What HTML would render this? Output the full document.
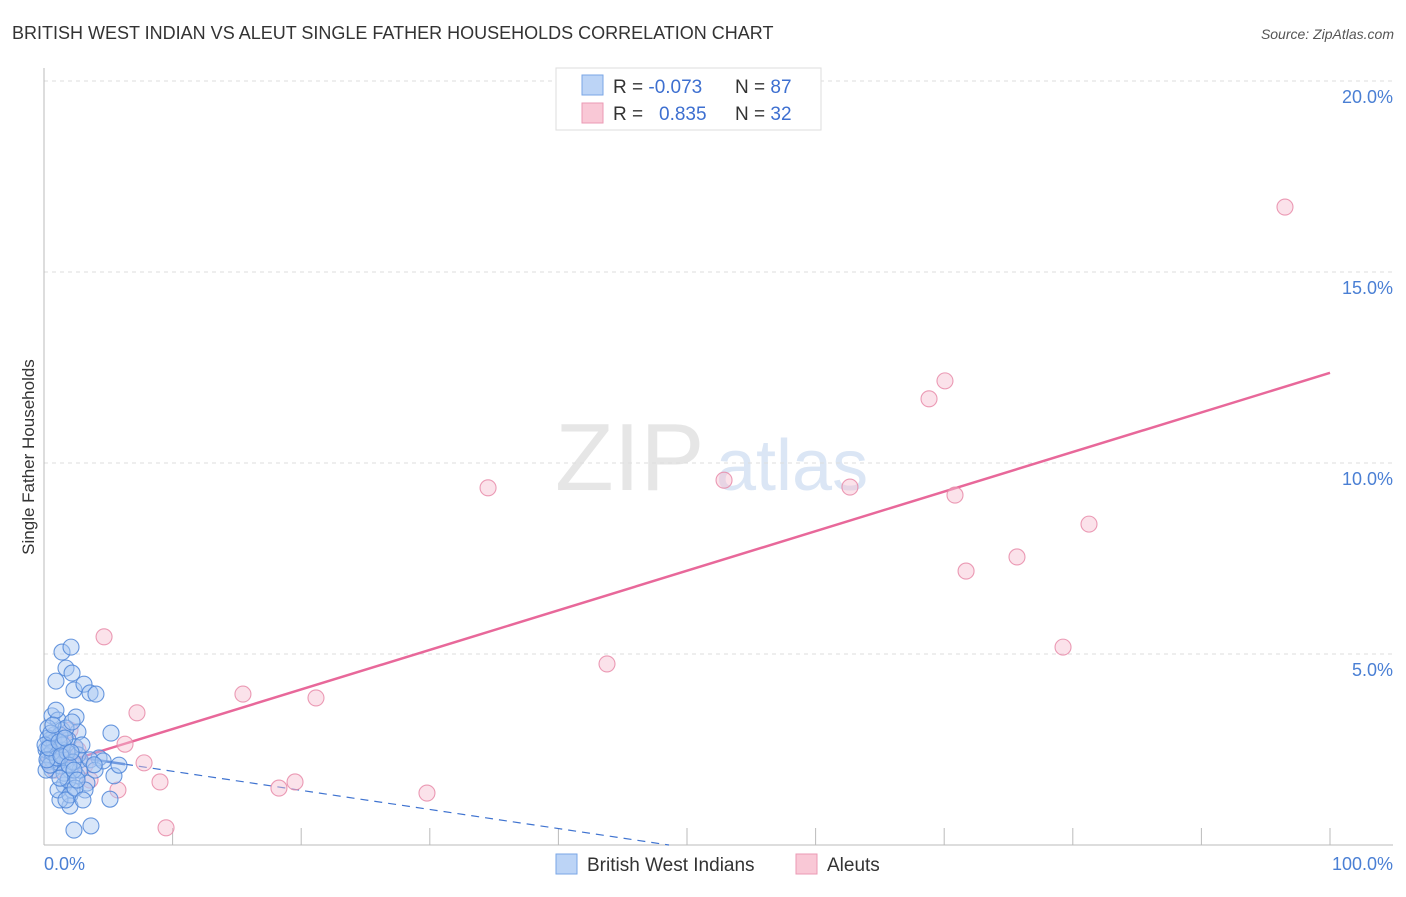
<!DOCTYPE html>
<html><head><meta charset="utf-8"><style>
body{margin:0;background:#fff;font-family:"Liberation Sans",sans-serif;}
svg text{font-family:"Liberation Sans",sans-serif;}
</style></head><body>
<svg id="chart" width="1406" height="892" xmlns="http://www.w3.org/2000/svg">
<text x="12" y="39" font-size="18" fill="#333">BRITISH WEST INDIAN VS ALEUT SINGLE FATHER HOUSEHOLDS CORRELATION CHART</text>
<text x="1394" y="39" font-size="14" fill="#555" text-anchor="end" font-style="italic">Source: ZipAtlas.com</text>
<text transform="translate(34,457) rotate(-90)" font-size="17" fill="#333" text-anchor="middle">Single Father Households</text>
<g><text x="555" y="490" font-size="96" fill="#e6e6e6" font-family="Liberation Serif">ZIP</text><text x="716" y="490" font-size="72" fill="#dbe6f5">atlas</text></g>
<g id="grid"></g><g id="axes"></g><g id="lines"></g><g id="points"></g>
<g>
<rect x="556" y="68" width="265" height="62" fill="#fff" stroke="#ddd"/>
<rect x="582" y="75" width="21" height="20" fill="#bcd4f6" stroke="#7aa6e6"/>
<rect x="582" y="103" width="21" height="20" fill="#f9c8d6" stroke="#eb9ab4"/>
<text x="613" y="93" font-size="19" fill="#333">R = <tspan fill="#3d6fd0">-0.073</tspan></text>
<text x="735" y="93" font-size="19" fill="#333">N = <tspan fill="#3d6fd0">87</tspan></text>
<text x="613" y="120" font-size="19" fill="#333">R = </text><text x="659" y="120" font-size="19" fill="#3d6fd0">0.835</text>
<text x="735" y="120" font-size="19" fill="#333">N = <tspan fill="#3d6fd0">32</tspan></text>
</g>
<g>
<rect x="556" y="854" width="21" height="20" fill="#bcd4f6" stroke="#7aa6e6"/>
<text x="587" y="871" font-size="19" fill="#333">British West Indians</text>
<rect x="796" y="854" width="21" height="20" fill="#f9c8d6" stroke="#eb9ab4"/>
<text x="827" y="871" font-size="19" fill="#333">Aleuts</text>
</g>
</svg>
<script>
const yTicks=[5,10,15,20];
const yTickLabels=["5.0%","10.0%","15.0%","20.0%"];
const pinkX=[4.67,7.23,6.30,7.78,9.02,9.49,5.75,3.58,2.64,15.47,21.15,18.27,19.52,29.78,34.53,43.78,52.88,62.67,68.82,70.06,70.84,71.70,75.66,79.24,81.26,96.50,0.47,1.24,2.02,0.86,3.19,1.63];
const pinkY=[5.45,3.46,2.64,2.15,1.65,0.45,1.44,1.70,2.49,3.95,3.85,1.49,1.65,1.36,9.35,4.74,9.55,9.37,11.68,12.15,9.16,7.17,7.54,5.18,8.40,16.70,2.23,2.75,3.01,1.96,2.09,2.36];
const blueX=[0.93,1.40,2.10,1.71,2.18,2.33,3.11,3.58,4.04,5.21,4.28,5.44,5.83,5.13,3.65,2.33,2.02,1.24,1.56,2.57,3.34,0.62,1.09,1.40,2.49,2.64,1.87,2.41,0.47,0.86,0.31,0.62,1.24,1.71,2.02,2.80,3.19,2.18,1.09,0.78,0.31,0.47,0.93,1.40,0.16,0.31,0.62,1.09,1.56,1.87,1.24,2.02,1.71,2.41,2.80,0.16,0.47,0.78,1.24,1.71,2.18,2.64,2.95,3.58,3.97,0.93,0.31,0.62,1.01,1.48,1.79,2.26,0.08,0.23,0.39,0.54,0.70,1.17,1.32,1.63,1.94,2.10,2.33,2.57,3.03,4.6,3.9];
const blueY=[4.29,5.05,5.18,4.63,4.50,4.06,4.21,3.98,3.95,2.93,2.28,1.81,2.09,1.20,0.50,0.39,1.02,1.18,1.57,1.81,1.62,3.38,3.27,3.01,3.35,2.96,2.75,2.57,2.62,2.36,2.17,1.96,2.07,2.23,1.96,2.23,1.44,1.44,1.44,2.88,3.06,2.75,2.54,2.49,2.49,2.33,2.23,2.17,1.88,1.70,1.75,1.31,1.18,1.49,1.96,1.96,2.09,2.70,2.88,3.06,3.22,2.36,2.62,2.23,1.96,3.53,2.80,2.43,2.28,2.62,2.43,2.17,2.62,2.23,2.54,2.93,3.14,2.70,2.33,2.80,2.09,2.43,1.96,1.70,1.18,2.2,2.1];
const pinkTrend=[2.0,12.36];
const blueTrend=[2.43,-2.57];
const NS="http://www.w3.org/2000/svg";
const X=v=>44+v*12.86, Y=v=>845-v*38.2;
function mk(tag,attrs,parent){const e=document.createElementNS(NS,tag);for(const k in attrs)e.setAttribute(k,attrs[k]);parent.appendChild(e);return e;}
const grid=document.getElementById('grid'),axes=document.getElementById('axes'),lines=document.getElementById('lines'),pts=document.getElementById('points');
yTicks.forEach((t,i)=>{
 const l=mk('line',{x1:44,x2:1393,y1:Y(t),y2:Y(t),stroke:'#ddd','stroke-dasharray':'4,4'},grid);
 
 
 const tx=mk('text',{x:1393,y:Y(t)+22,'font-size':18,fill:'#4a7fd4','text-anchor':'end'},axes);tx.textContent=yTickLabels[i];
 
 
});
const ax=mk('line',{x1:44,x2:44,y1:68,y2:845,stroke:'#bbb'},axes);


const bx=mk('line',{x1:44,x2:1393,y1:845,y2:845,stroke:'#bbb'},axes);


for(let i=0;i<=10;i++){const t=mk('line',{x1:X(i*10),x2:X(i*10),y1:828,y2:845,stroke:'#bbb'},axes);
 
 }
const x0=mk('text',{x:44,y:870,'font-size':18,fill:'#4a7fd4'},axes);x0.textContent='0.0%';


const x1=mk('text',{x:1393,y:870,'font-size':18,fill:'#4a7fd4','text-anchor':'end'},axes);x1.textContent='100.0%';


function dots(xs,ys,fill,stroke,name){xs.forEach((v,i)=>{const c=mk('circle',{cx:X(v),cy:Y(ys[i]),r:8,fill:fill,'fill-opacity':0.45,stroke:stroke,'stroke-width':1.1,'stroke-opacity':0.85},pts);
 
 });}
dots(pinkX,pinkY,'#f7bfd0','#e88aa8','aleut-point');
dots(blueX,blueY,'#a9c8f2','#4f86d8','british-west-indian-point');
const pl=mk('line',{x1:X(0),y1:Y(pinkTrend[0]),x2:X(100),y2:Y(pinkTrend[1]),stroke:'#e8689a','stroke-width':2.5},lines);


const bm=blueTrend[0]+(blueTrend[1]-blueTrend[0])*0.063;
const bl1=mk('line',{x1:X(0),y1:Y(blueTrend[0]),x2:X(6.3),y2:Y(bm),stroke:'#3f73d0','stroke-width':2.5},lines);


const zeroX=blueTrend[0]/(blueTrend[0]-blueTrend[1])*100;
const bl2=mk('line',{x1:X(6.3),y1:Y(bm),x2:X(zeroX),y2:Y(0),stroke:'#3f73d0','stroke-width':1.2,'stroke-dasharray':'8,6'},lines);


</script>
</body></html>
